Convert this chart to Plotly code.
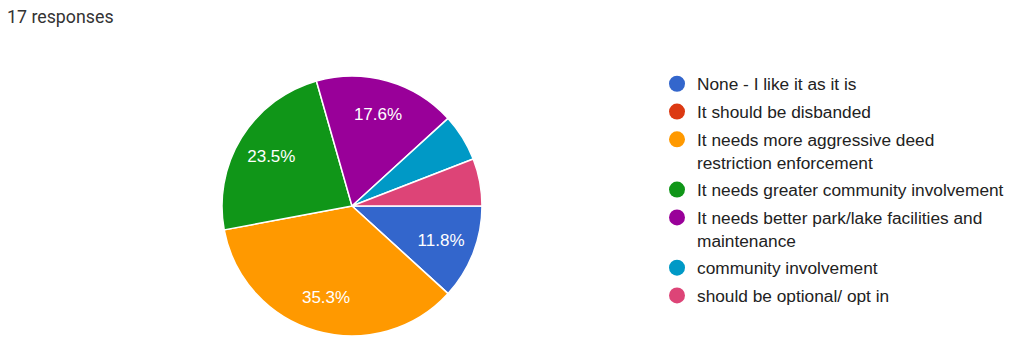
import plotly.graph_objects as go

labels = [
    "None - I like it as it is",
    "It should be disbanded",
    "It needs more aggressive deed<br>restriction enforcement",
    "It needs greater community involvement",
    "It needs better park/lake facilities and<br>maintenance",
    "community involvement",
    "should be optional/ opt in",
]
counts = [2, 0, 6, 4, 3, 1, 1]
colors = ["#3366cc", "#dc3912", "#ff9900", "#109618", "#990099", "#0099c6", "#dd4477"]
total_label = "17 responses"

total = sum(counts)
texts = [f"{c / total * 100:.1f}%" if c / total >= 0.1 else "" for c in counts]

dom = dict(x=[222 / 1023, 482 / 1023], y=[20 / 356, 280 / 356])

fig = go.Figure()
# coloured slices
fig.add_trace(go.Pie(
    values=counts, labels=labels, sort=False, direction="clockwise", rotation=90,
    marker=dict(colors=colors, line=dict(color="white", width=1.5)),
    textinfo="none", showlegend=False, hoverinfo="skip", domain=dom,
))
# percentage labels placed in an outer ring (same slices, transparent)
fig.add_trace(go.Pie(
    values=counts, labels=labels, sort=False, direction="clockwise", rotation=90,
    hole=0.46, text=texts, textinfo="text", textposition="inside",
    insidetextorientation="horizontal",
    marker=dict(colors=["rgba(0,0,0,0)"] * len(counts), line=dict(width=0)),
    textfont=dict(color="white", size=17, family="Liberation Sans, Arial"),
    showlegend=False, hoverinfo="skip", domain=dom,
))

for lab, col in zip(labels, colors):
    fig.add_trace(go.Scatter(
        x=[None], y=[None], mode="markers", name=lab, legendgroup=lab,
        marker=dict(color=col, size=16, symbol="circle"),
        showlegend=True,
    ))

fig.update_layout(
    width=1023, height=356,
    margin=dict(l=0, r=0, t=0, b=0),
    paper_bgcolor="white", plot_bgcolor="white",
    xaxis=dict(visible=False), yaxis=dict(visible=False),
    legend=dict(
        x=657 / 1023, xanchor="left", y=1 - 66 / 356, yanchor="top",
        font=dict(family="Liberation Sans, Arial", size=17.3, color="#222222"),
        valign="top", bgcolor="rgba(0,0,0,0)", tracegroupgap=2.3,
        traceorder="grouped",
        itemclick=False, itemdoubleclick=False,
    ),
    annotations=[dict(
        text=total_label, x=5 / 1023, y=1 - 16 / 356, xref="paper", yref="paper",
        xanchor="left", yanchor="middle", showarrow=False,
        font=dict(family="Roboto, Liberation Sans", size=17.8, color="#333333"),
    )],
)

fig.write_html("out.html")
